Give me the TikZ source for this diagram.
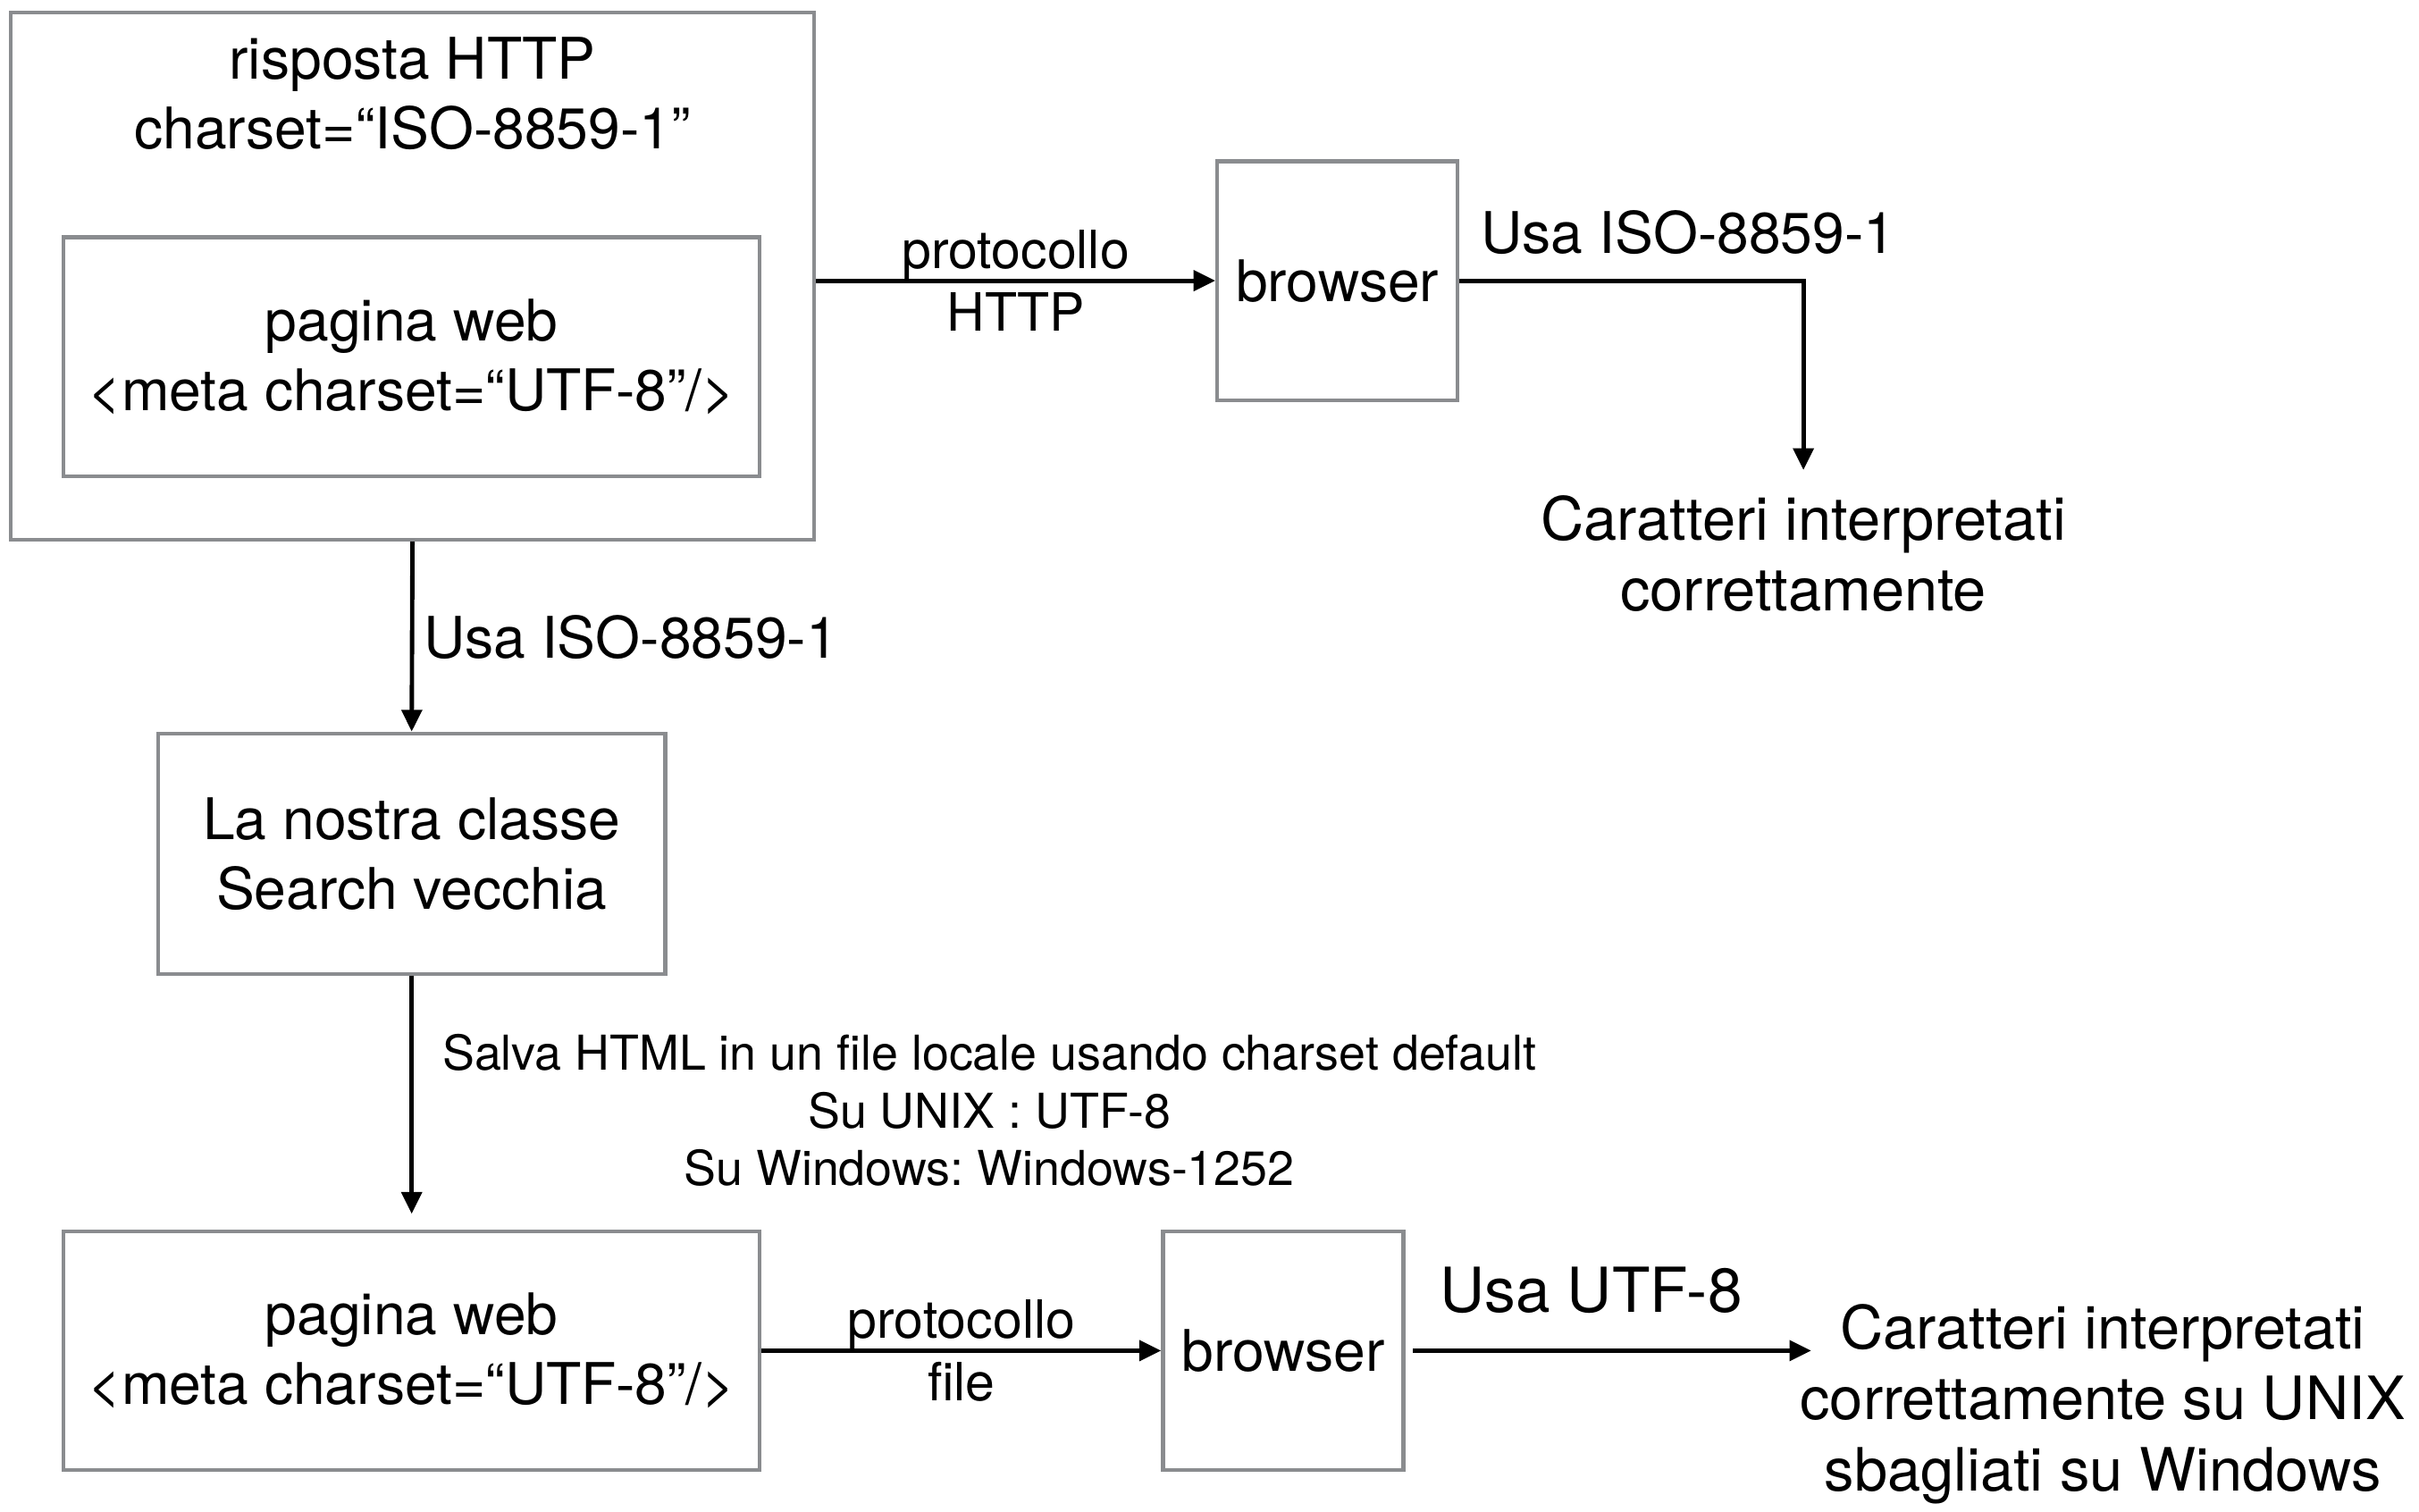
\documentclass[tikz,border=0pt]{standalone}
\usepackage{fontspec}
\setmainfont{TeX Gyre Heros}
\usetikzlibrary{arrows.meta}
\definecolor{boxgray}{HTML}{8A8C8F}
\frenchspacing
\begin{document}
\begin{tikzpicture}[x=1pt,y=-1pt,
  box/.style={draw=boxgray,line width=2.5pt,inner sep=0pt,align=center},
  arr/.style={draw=black,line width=2.8pt,-{Triangle[length=14pt,width=13pt]}},
  txt/.style={font=\fontsize{37}{45}\selectfont},
  tsmall/.style={font=\fontsize{34}{40}\selectfont},
  tlab/.style={font=\fontsize{31}{37}\selectfont},
  tbig/.style={font=\fontsize{40}{46}\selectfont},
  tres/.style={font=\fontsize{38.5}{46}\selectfont}]
\useasboundingbox (0,0) rectangle (1560,974.5);
% top-left boxes
\node[box, minimum width=518pt, minimum height=340pt] (outer) at (266,178) {};
\node[txt, align=center] (title) at (266,60.5) {risposta HTTP\\charset=“ISO-8859-1”};
\node[box, txt, minimum width=449pt, minimum height=154pt] (inner) at (265.5,230) {pagina web\\<meta charset=“UTF-8”/>};
% browser 1
\node[box, txt, minimum width=155pt, minimum height=154pt] (br1) at (862.5,181) {browser};
\node[tres, align=center, inner sep=16pt] (res1) at (1163,357) {Caratteri interpretati\\correttamente};
% class box
\node[box, txt, minimum width=327pt, minimum height=155pt] (cls) at (265.5,550.5) {La nostra classe\\Search vecchia};
% bottom row
\node[box, txt, minimum width=449pt, minimum height=154pt] (page2) at (265.5,871) {pagina web\\<meta charset=“UTF-8”/>};
\node[box, txt, minimum width=155pt, minimum height=154pt] (br2) at (827.5,871) {browser};
\node[tres, align=center] (res2) at (1356,905.5) {Caratteri interpretati\\correttamente su UNIX\\sbagliati su Windows};
\coordinate (t2) at (1168,871);
% connectors
\draw[arr] (outer.east |- br1.west) -- (br1.west);
\node[tsmall, align=center] (lab1) at (655,181) {protocollo\\HTTP};
\draw[arr] (br1.east) -| (res1.north);
\node[txt, anchor=west, inner sep=0pt] (lab2) at (955,150) {Usa ISO-8859-1};
\draw[arr] (outer.south) -- (cls.north);
\node[txt, anchor=west, inner sep=0pt] (lab3) at (273,411) {Usa ISO-8859-1};
\draw[arr, shorten >=10pt] (cls.south) -- (page2.north);
\node[tlab, align=center] (lab4) at (638,716) {Salva HTML in un file locale usando charset default\\Su UNIX : UTF-8\\Su Windows: Windows-1252};
\draw[arr] (page2.east) -- (br2.west);
\node[tsmall, align=center] (lab5) at (620,871) {protocollo\\file};
\draw[arr] ([xshift=5pt]br2.east) -- (t2);
\node[tbig] (lab6) at (1026,832) {Usa UTF-8};
\end{tikzpicture}
\end{document}
